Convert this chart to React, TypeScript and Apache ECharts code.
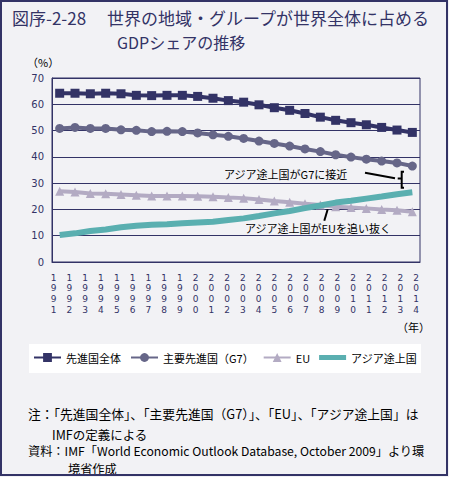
import React, { useEffect, useRef } from "react";
import * as echarts from "echarts";

const years = [
  "1991", "1992", "1993", "1994", "1995", "1996", "1997", "1998", "1999", "2000",
  "2001", "2002", "2003", "2004", "2005", "2006", "2007", "2008", "2009", "2010",
  "2011", "2012", "2013", "2014",
];
const advanced = [
  64.2, 64.2, 64.0, 64.2, 64.0, 63.4, 63.3, 63.4, 63.4, 63.0,
  62.3, 61.4, 60.8, 59.8, 58.7, 57.7, 56.5, 55.1, 53.9, 53.0,
  52.2, 51.2, 50.2, 49.3,
];
const g7 = [
  50.8, 51.2, 50.8, 50.8, 50.3, 50.1, 49.6, 49.7, 49.6, 49.1,
  48.4, 47.8, 47.0, 46.0, 45.1, 44.1, 43.0, 42.0, 40.8, 39.9,
  39.1, 38.4, 37.7, 36.5,
];
const eu = [
  26.9, 26.6, 26.1, 26.0, 25.7, 25.4, 25.1, 25.1, 25.1, 25.0,
  24.8, 24.5, 24.3, 23.8, 23.2, 22.7, 22.2, 21.7, 21.0, 20.7,
  20.4, 20.0, 19.7, 19.1,
];
const asia = [
  10.3, 10.9, 11.8, 12.4, 13.2, 13.8, 14.2, 14.4, 14.7, 15.0,
  15.3, 16.0, 16.6, 17.5, 18.5, 19.4, 20.5, 21.5, 22.6, 23.3,
  24.1, 24.9, 25.8, 26.5,
];
const seriesNames = ["先進国全体", "主要先進国（G7）", "EU", "アジア途上国"];
const yTicks = { min: 0, max: 70, interval: 10 };

const titleNo = "図序-2-28";
const titleLine1 = "世界の地域・グループが世界全体に占める";
const titleLine2 = "GDPシェアの推移";
const unitY = "（%）";
const unitX = "（年）";
const noteG7 = "アジア途上国がG7に接近";
const noteEU = "アジア途上国がEUを追い抜く";
const footnote1 = "注：「先進国全体」、「主要先進国（G7）」、「EU」、「アジア途上国」は";
const footnote2 = "IMFの定義による";
const footnote3 = "資料：IMF「World Economic Outlook Database, October 2009」より環";
const footnote4 = "境省作成";

const NAVY = "#333366";
const G7C = "#666688";
const EUC = "#b3abc3";
const ASIAC = "#5aafb0";
const BG = "#f2f2f5";
const FONT = "'Noto Sans CJK JP', 'DejaVu Sans', sans-serif";
const DIGIT_FONT = "'DejaVu Sans', sans-serif";

export default function App() {
  const ref = useRef<HTMLDivElement>(null);
  useEffect(() => {
    if (!ref.current) return;
    const chart = echarts.init(ref.current, undefined, { renderer: "svg" });
    const txt = (x: number, y: number, text: string, size: number, color: string, extra: any = {}) => ({
      type: "text",
      x,
      y,
      style: { text, fontSize: size, fill: color, fontFamily: FONT, textVerticalAlign: "middle", ...extra },
      z: 10,
    });
    const blk = { stroke: "#000", lineWidth: 2 };
    // one hidden grid per digit row of the year labels (years written vertically)
    const digitRows = [0, 1, 2, 3];
    const labelGrids = digitRows.map(() => ({ left: 53.7, top: 78, width: 362.5, height: 184, show: false }));
    const labelXAxes = digitRows.map((i) => ({
      type: "category", gridIndex: i + 1, data: years, boundaryGap: false,
      axisLine: { show: false }, axisTick: { show: false },
      axisLabel: {
        interval: 0, color: NAVY, fontSize: 9, fontFamily: DIGIT_FONT, margin: 11 + i * 10.9,
        formatter: (v: string) => v.charAt(i),
      },
    }));
    const labelYAxes = digitRows.map((i) => ({ type: "value", gridIndex: i + 1, ...yTicks, show: false }));
    chart.setOption({
      animation: false,
      backgroundColor: BG,
      textStyle: { fontFamily: FONT },
      grid: [
        { left: 52, top: 78, width: 368, height: 184, show: true, borderColor: NAVY, borderWidth: 1 },
        ...labelGrids,
      ],
      xAxis: [
        {
          type: "category", gridIndex: 0, data: years, boundaryGap: true,
          axisTick: { show: false }, axisLabel: { show: false },
          axisLine: { lineStyle: { color: NAVY, width: 1 } },
        },
        ...labelXAxes,
      ],
      yAxis: [
        {
          type: "value", gridIndex: 0, ...yTicks,
          axisLine: { show: true, lineStyle: { color: NAVY } },
          axisTick: { show: false },
          splitLine: { lineStyle: { color: NAVY, width: 1 } },
          axisLabel: { color: NAVY, fontSize: 10, margin: 8, fontFamily: DIGIT_FONT },
        },
        ...labelYAxes,
      ],
      legend: {
        left: 33, top: 352, padding: 0, itemWidth: 27, itemHeight: 11, itemGap: 9,
        textStyle: { fontSize: 11, color: "#000", fontFamily: FONT },
        data: [
          seriesNames[0],
          seriesNames[1],
          seriesNames[2],
          { name: seriesNames[3], icon: "path://M0,0H27V5H0Z" },
        ],
      },
      series: [
        {
          name: seriesNames[0], type: "line", data: advanced, symbol: "rect", symbolSize: 9,
          color: NAVY, lineStyle: { width: 4, color: NAVY }, itemStyle: { color: NAVY }, z: 4,
        },
        {
          name: seriesNames[1], type: "line", data: g7, symbol: "circle", symbolSize: 9,
          color: G7C, lineStyle: { width: 4, color: G7C }, itemStyle: { color: G7C }, z: 3,
        },
        {
          name: seriesNames[2], type: "line", data: eu, symbol: "triangle", symbolSize: 9,
          color: EUC, lineStyle: { width: 4, color: EUC }, itemStyle: { color: EUC }, z: 2,
        },
        {
          name: seriesNames[3], type: "line", data: asia, symbol: "none",
          color: ASIAC, lineStyle: { width: 6, color: ASIAC }, itemStyle: { color: ASIAC }, z: 5,
        },
      ],
      graphic: [
        { type: "rect", shape: { x: 1, y: 1, width: 446, height: 474 }, style: { fill: "none", stroke: NAVY, lineWidth: 2 }, z: 20 },
        { type: "rect", shape: { x: 29, y: 344, width: 392, height: 29 }, style: { fill: "#ffffff" }, z: 0 },
        txt(12, 17.5, titleNo, 17, NAVY),
        txt(107, 17.5, titleLine1, 17, NAVY),
        txt(117, 41.6, titleLine2, 16, NAVY),
        txt(27, 62, unitY, 11, "#000"),
        txt(397, 327, unitX, 11, "#000"),
        txt(224, 174, noteG7, 11, "#000"),
        txt(245, 228, noteEU, 11, "#000"),
        { type: "line", shape: { x1: 365, y1: 172.7, x2: 395, y2: 178.3 }, style: blk, z: 10 },
        { type: "polyline", shape: { points: [[404, 171.7], [401.7, 171.7], [401.7, 187.7], [404, 187.7]] }, style: { ...blk, fill: "none" }, z: 10 },
        { type: "line", shape: { x1: 397.7, y1: 178.5, x2: 401.7, y2: 178.5 }, style: blk, z: 10 },
        { type: "line", shape: { x1: 324.3, y1: 220.7, x2: 327.7, y2: 209.3 }, style: blk, z: 10 },
        txt(28, 413, footnote1, 12.8, "#000"),
        txt(52, 434, footnote2, 12.5, "#000"),
        txt(28, 451, footnote3, 12.2, "#000"),
        txt(68, 469, footnote4, 12.2, "#000"),
      ],
    });
    return () => chart.dispose();
  }, []);
  return <div ref={ref} style={{ position: "fixed", left: 0, top: 0, width: 449, height: 477 }} />;
}
